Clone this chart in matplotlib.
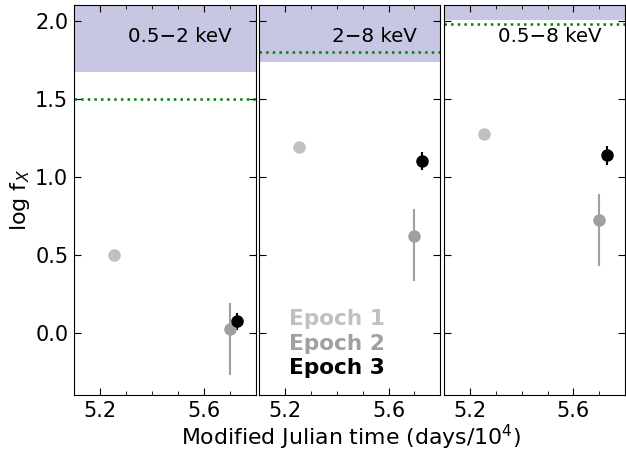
import matplotlib.pyplot as plt
from matplotlib.ticker import MultipleLocator

bands = ["0.5\u22122 keV", "2\u22128 keV", "0.5\u22128 keV"]
shade_low = [1.673, 1.733, 2.004]
limit_line = [1.50, 1.80, 1.98]

epoch_names = ["Epoch 1", "Epoch 2", "Epoch 3"]
epoch_colors = ["#c0c0c0", "#a0a0a0", "black"]
epoch_mjd = [5.254, 5.700, 5.728]

# log fx per band (rows) per epoch (cols), with lower/upper errors
logfx = [[0.50, 0.02, 0.075],
         [1.19, 0.62, 1.10],
         [1.275, 0.72, 1.14]]
err_lo = [[0.0, 0.29, 0.06],
          [0.0, 0.29, 0.06],
          [0.0, 0.29, 0.065]]
err_hi = [[0.0, 0.17, 0.05],
          [0.0, 0.17, 0.055],
          [0.0, 0.17, 0.055]]

plt.rcParams['font.size'] = 15
fig, axes = plt.subplots(1, 3, figsize=(6.26, 4.54), dpi=100, sharey=True)
fig.subplots_adjust(left=0.118, right=0.999, top=0.989, bottom=0.13, wspace=0.018)

for i, ax in enumerate(axes):
    ax.axhspan(shade_low[i], 3, color='navy', alpha=0.22, lw=0)
    ax.axhline(limit_line[i], color='green', ls=':', lw=1.8)
    for j in range(3):
        if err_lo[i][j] > 0:
            ax.errorbar(epoch_mjd[j], logfx[i][j], yerr=[[err_lo[i][j]], [err_hi[i][j]]],
                        fmt='o', color=epoch_colors[j], ms=8, elinewidth=1.5, capsize=0)
        else:
            ax.plot(epoch_mjd[j], logfx[i][j], 'o', color=epoch_colors[j], ms=8)
    ax.text(0.87, 0.918, bands[i], transform=ax.transAxes, ha='right', va='center', fontsize=14.3)
    ax.set_xlim(5.1, 5.8)
    ax.set_ylim(-0.4, 2.1)
    ax.xaxis.set_minor_locator(MultipleLocator(0.1))
    ax.yaxis.set_major_locator(MultipleLocator(0.5))
    ax.tick_params(which='both', direction='in', top=True, right=True)
    ax.tick_params(which='major', length=5, pad=4)
    ax.tick_params(which='minor', length=3)
    ax.set_xticks([5.2, 5.6])
    ax.set_xticklabels(["5.2", "5.6"])

for j in range(3):
    axes[1].text(5.215, [0.09, -0.07, -0.225][j], epoch_names[j], color=epoch_colors[j],
                 fontsize=15.6, fontweight='bold', va='center')

axes[0].set_ylabel("log f$_X$", fontsize=16, labelpad=2)
fig.text(0.56, 0.004, "Modified Julian time (days/10$^4$)", ha='center', va='bottom', fontsize=15.8)

plt.savefig("out.png", dpi=100)
